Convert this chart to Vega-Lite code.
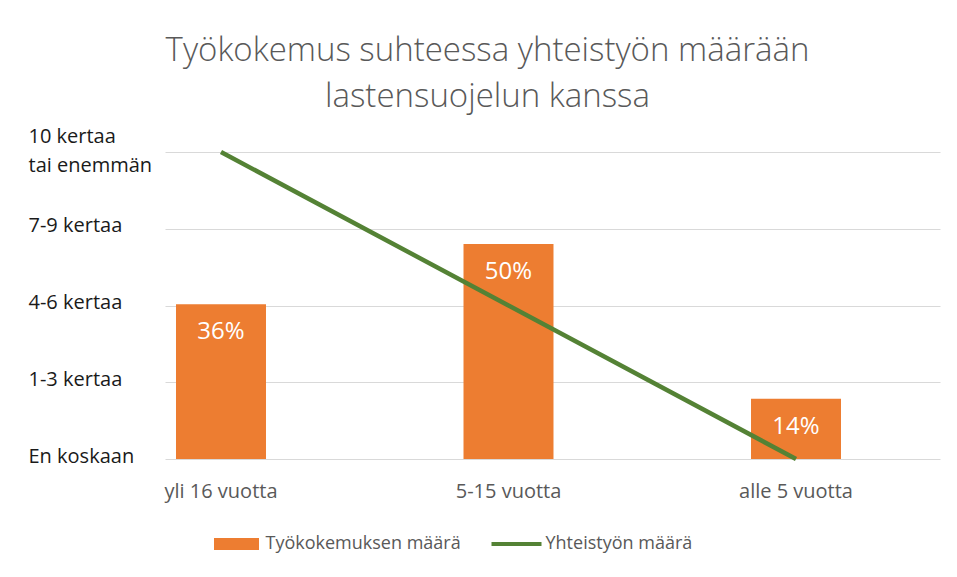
{
  "$schema": "https://vega.github.io/schema/vega-lite/v6.json",
  "width": 775,
  "height": 307,
  "autosize": {"type": "none"},
  "padding": {"left": 165, "top": 152, "right": 17, "bottom": 118},
  "background": "white",
  "title": {
    "text": ["Työkokemus suhteessa yhteistyön määrään", "lastensuojelun kanssa"],
    "font": "Open Sans",
    "fontSize": 33,
    "fontWeight": 300,
    "color": "#595959",
    "lineHeight": 46,
    "dx": -65,
    "offset": 12,
    "anchor": "middle"
  },
  "config": {"view": {"stroke": null}, "font": "Open Sans"},
  "data": {
    "values": [
      {"group": "yli 16 vuotta", "pct": 0.36, "level": 4},
      {"group": "5-15 vuotta", "pct": 0.50, "level": 2},
      {"group": "alle 5 vuotta", "pct": 0.14, "level": 0}
    ]
  },
  "encoding": {
    "x": {
      "field": "group",
      "type": "nominal",
      "sort": null,
      "scale": {"paddingInner": 0.687, "paddingOuter": 0.1913, "align": 0.1},
      "axis": {
        "title": null,
        "domain": false,
        "ticks": false,
        "labelAngle": 0,
        "labelFont": "Open Sans",
        "labelFontSize": 20,
        "labelColor": "#595959",
        "labelPadding": 22
      }
    }
  },
  "layer": [
    {
      "layer": [
        {
          "mark": {"type": "bar"},
          "encoding": {
            "y": {"field": "pct", "type": "quantitative", "scale": {"domain": [0, 0.714], "nice": false}, "axis": null},
            "color": {
              "datum": "Työkokemuksen määrä",
              "type": "nominal",
              "scale": {"domain": ["Työkokemuksen määrä", "Yhteistyön määrä"], "range": ["#ED7D31", "#548235"]},
              "legend": {
                "orient": "none",
                "legendX": 46.5,
                "legendY": 367,
                "direction": "horizontal",
                "title": null,
                "labelFont": "Open Sans",
                "labelFontSize": 18,
                "labelColor": "#595959",
                "labelLimit": 400,
                "symbolSize": 2500,
                "labelOffset": 4,
                "columnPadding": 30,
                "padding": 0,
                "encode": {
                  "symbols": {
                    "update": {
                      "shape": {"signal": "datum.value === 'Yhteistyön määrä' ? 'M-1,-0.08H1V0.08H-1Z' : 'M-0.9,-0.24H0.9V0.24H-0.9Z'"},
                      "fill": {"signal": "datum.value === 'Yhteistyön määrä' ? '#548235' : '#ED7D31'"},
                      "stroke": {"value": "transparent"},
                      "strokeWidth": {"value": 0},
                      "opacity": {"value": 1}
                    }
                  }
                }
              }
            }
          }
        },
        {
          "mark": {"type": "text", "dy": 28, "baseline": "middle", "color": "white", "fontSize": 24, "font": "Open Sans"},
          "encoding": {
            "y": {"field": "pct", "type": "quantitative"},
            "text": {"field": "pct", "type": "quantitative", "format": ".0%"}
          }
        }
      ]
    },
    {
      "mark": {"type": "line", "strokeWidth": 4.5},
      "encoding": {
        "y": {
          "field": "level",
          "type": "quantitative",
          "scale": {"domain": [0, 4], "nice": false},
          "axis": {
            "orient": "left",
            "title": null,
            "values": [0, 1, 2, 3, 4],
            "domain": false,
            "ticks": false,
            "grid": true,
            "gridColor": "#D9D9D9",
            "gridWidth": 1.2,
            "labelAlign": "left",
            "labelBaseline": "middle",
            "labelPadding": 137,
            "labelFont": "Open Sans",
            "labelFontSize": 20,
            "labelColor": "#1a1a1a",
            "labelLineHeight": 29,
            "labelFlush": false,
            "labelOverlap": false,
            "labelBound": false,
            "labelLimit": 200,
            "labelOffset": {"condition": {"test": "datum.value == 4", "value": -16}, "value": -3},
            "labelExpr": "datum.value == 4 ? ['10 kertaa', 'tai enemmän'] : datum.value == 3 ? '7-9 kertaa' : datum.value == 2 ? '4-6 kertaa' : datum.value == 1 ? '1-3 kertaa' : 'En koskaan'"
          }
        },
        "color": {"datum": "Yhteistyön määrä", "type": "nominal"}
      }
    }
  ],
  "resolve": {"scale": {"y": "independent"}}
}
